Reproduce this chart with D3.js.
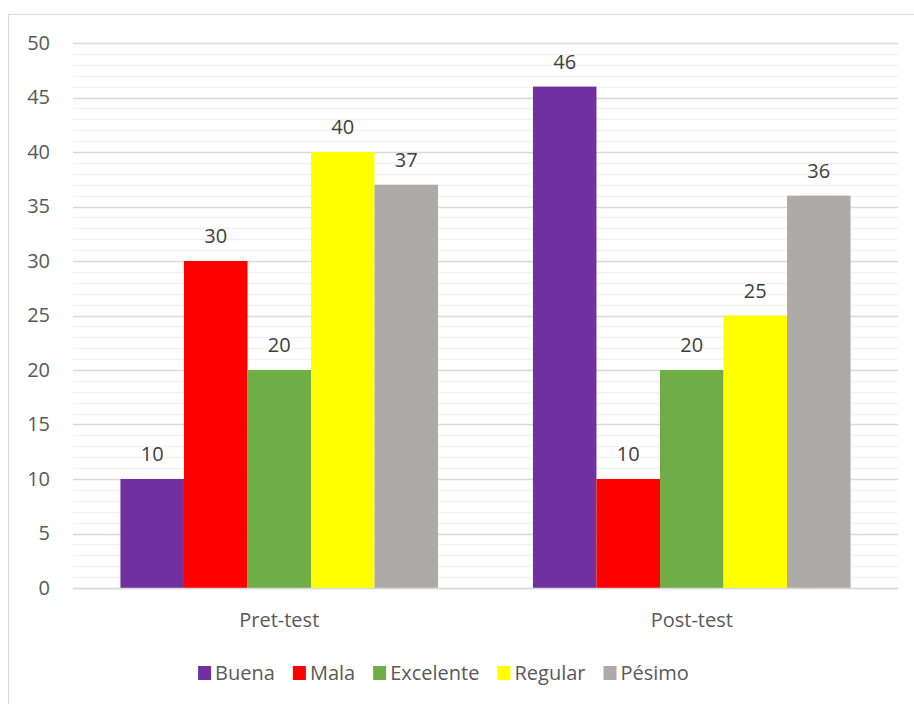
<!DOCTYPE html>
<html>
<head>
<meta charset="utf-8">
<script src="https://cdn.jsdelivr.net/npm/d3@7"></script>
<style>
  html, body { margin: 0; padding: 0; background: #fff; }
  svg { display: block; font-family: "Open Sans", "Liberation Sans", sans-serif; }
</style>
</head>
<body>
<svg id="chart" width="914" height="704"></svg>
<script>
// Groups on the x axis
const categories = ["Pret-test", "Post-test"];
// One series per rating
const seriesNames = ["Buena", "Mala", "Excelente", "Regular", "Pésimo"];
const seriesColors = ["#7030A0", "#FF0000", "#70AD47", "#FFFF00", "#AEAAAA"];
const buena = [10, 46];
const mala = [30, 10];
const excelente = [20, 20];
const regular = [40, 25];
const pesimo = [37, 36];
const seriesValues = [buena, mala, excelente, regular, pesimo];
const yTicks = [0, 5, 10, 15, 20, 25, 30, 35, 40, 45, 50];

const svg = d3.select("#chart");
const textColor = "#595959";
const fontSize = 20;

// Chart frame
svg.append("rect")
  .attr("x", 8.5).attr("y", 14.5)
  .attr("width", 920).attr("height", 700)
  .attr("fill", "#fff").attr("stroke", "#d9d9d9").attr("stroke-width", 1);

const plot = { left: 73, right: 898, top: 43, bottom: 588 };

const y = d3.scaleLinear().domain([0, 50]).range([plot.bottom, plot.top]);
const x0 = d3.scaleBand().domain(categories).range([plot.left, plot.right]).paddingInner(0.23).paddingOuter(0.115);
const x1 = d3.scaleBand().domain(seriesNames).range([0, x0.bandwidth()]);

// Minor gridlines every unit
svg.append("g")
  .selectAll("line")
  .data(d3.range(0, 51).filter(v => v % 5 !== 0))
  .join("line")
  .attr("x1", plot.left).attr("x2", plot.right)
  .attr("y1", d => Math.round(y(d)) + 0.5).attr("y2", d => Math.round(y(d)) + 0.5)
  .attr("stroke", "#f2f2f2").attr("stroke-width", 1.5);

// Major gridlines
svg.append("g")
  .selectAll("line")
  .data(yTicks)
  .join("line")
  .attr("x1", plot.left).attr("x2", plot.right)
  .attr("y1", d => Math.round(y(d)) + 0.5).attr("y2", d => Math.round(y(d)) + 0.5)
  .attr("stroke", "#d9d9d9").attr("stroke-width", 1.5);

// Y axis labels
const yAxis = d3.axisLeft(y).tickValues(yTicks).tickSize(0).tickPadding(0);
const yg = svg.append("g").attr("transform", `translate(${plot.left - 23},0)`).call(yAxis);
yg.select(".domain").remove();
yg.selectAll("text")
  .attr("fill", textColor).attr("font-size", fontSize)
  .attr("font-family", "'Open Sans', sans-serif");

// Bars
const groups = svg.append("g")
  .selectAll("g")
  .data(categories)
  .join("g")
  .attr("transform", d => `translate(${x0(d)},0)`);

groups.selectAll("rect")
  .data((d, i) => seriesNames.map((s, j) => ({ s, v: seriesValues[j][i], c: seriesColors[j] })))
  .join("rect")
  .attr("x", d => x1(d.s))
  .attr("width", x1.bandwidth())
  .attr("y", d => y(d.v))
  .attr("height", d => y(0) - y(d.v))
  .attr("fill", d => d.c);

// Value labels
groups.selectAll("text")
  .data((d, i) => seriesNames.map((s, j) => ({ s, v: seriesValues[j][i] })))
  .join("text")
  .attr("x", d => x1(d.s) + x1.bandwidth() / 2)
  .attr("y", d => y(d.v) - 18)
  .attr("text-anchor", "middle")
  .attr("fill", "#404040").attr("font-size", fontSize)
  .text(d => d.v);

// Baseline
svg.append("line")
  .attr("x1", plot.left).attr("x2", plot.right)
  .attr("y1", Math.round(y(0)) + 0.5).attr("y2", Math.round(y(0)) + 0.5)
  .attr("stroke", "#d9d9d9").attr("stroke-width", 1.5);

// X axis labels
const xAxis = d3.axisBottom(x0).tickSize(0).tickPadding(0);
const xg = svg.append("g").attr("transform", `translate(0,${plot.bottom + 39})`).call(xAxis);
xg.select(".domain").remove();
xg.selectAll("text")
  .attr("dy", 0)
  .attr("fill", textColor).attr("font-size", fontSize)
  .attr("font-family", "'Open Sans', sans-serif");

// Legend
const legend = svg.append("g");
const gap = 18;
let lx = 0;
const items = [];
seriesNames.forEach((name, i) => {
  const g = legend.append("g");
  g.append("rect").attr("x", 0).attr("y", -14).attr("width", 13).attr("height", 14).attr("fill", seriesColors[i]);
  const t = g.append("text").attr("x", 17).attr("y", 0).attr("fill", textColor).attr("font-size", fontSize).text(name);
  const w = 17 + t.node().getComputedTextLength();
  items.push({ g, x: lx });
  lx += w + gap;
});
const totalW = lx - gap;
const startX = 443.5 - totalW / 2;
items.forEach(it => it.g.attr("transform", `translate(${startX + it.x},680)`));
</script>
</body>
</html>
